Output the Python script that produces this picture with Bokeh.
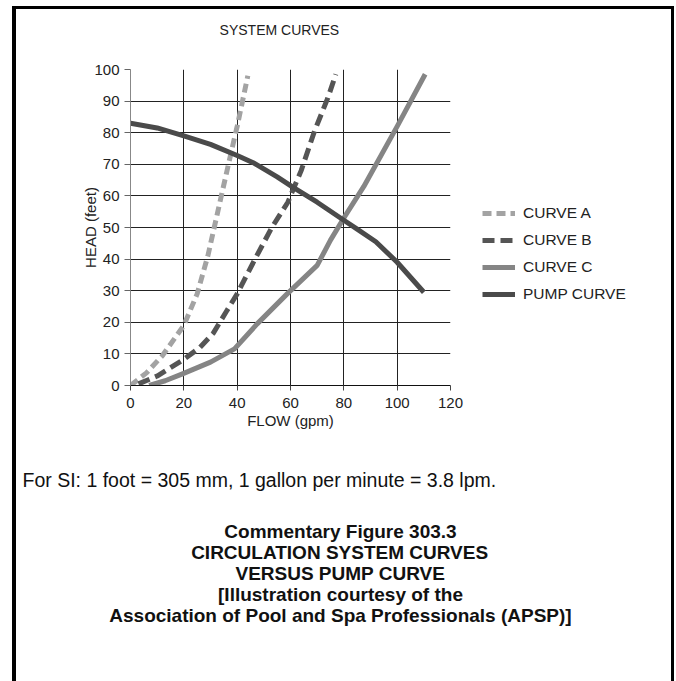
from bokeh.plotting import figure
from bokeh.models import Range1d, FixedTicker, Legend, LegendItem, Title
from bokeh.embed import file_html
from bokeh.resources import INLINE

# ---- data ----
flow_a = [0, 6, 12, 20, 25, 29, 33, 37, 40, 44]
head_a = [0, 4, 9.5, 19, 29, 41, 56, 71, 82, 98]

flow_b = [3, 10, 19.5, 26, 31, 36, 40, 47, 53, 59, 64, 69, 74, 77]
head_b = [0.5, 3, 8, 12, 16.5, 23.5, 29, 40.5, 50, 58, 68, 80.5, 91, 98.5]

flow_c = [7, 13, 19.5, 30, 39, 47.5, 58.75, 70, 75, 80, 87.5, 100, 110.5]
head_c = [0, 1.5, 3.7, 7.4, 11.6, 19.5, 29, 38, 46, 53, 63, 82, 98.5]

flow_p = [0, 10, 20, 30, 40, 46, 55, 61, 70, 80, 85, 92, 100, 110]
head_p = [83, 81.5, 79, 76.3, 72.8, 70.5, 66, 62.7, 58, 52.3, 49.5, 45.5, 39, 29.5]

series_names = ["CURVE A", "CURVE B", "CURVE C", "PUMP CURVE"]
x_ticks = [0, 20, 40, 60, 80, 100, 120]
y_ticks = [0, 10, 20, 30, 40, 50, 60, 70, 80, 90, 100]

title_text = "SYSTEM CURVES"
note_text = "For SI:  1 foot = 305 mm, 1 gallon per minute = 3.8 lpm."
caption_lines = [
    "Commentary Figure 303.3",
    "CIRCULATION SYSTEM CURVES",
    "VERSUS PUMP CURVE",
    "[Illustration courtesy of the",
    "Association of Pool and Spa Professionals (APSP)]",
]

FONT = "Liberation Sans"
W, H = 676, 681
FL, FR, FT, FB = 130, 450, 69, 385   # frame edges in pixels

# Arial/Liberation Sans advance widths (1/1000 em) used to centre text
_REG = {"S": 667, "Y": 667, "T": 611, "E": 667, "M": 833, " ": 278, "C": 722,
        "U": 722, "R": 722, "V": 667}
_BOLD = {" ": 278, "(": 333, ")": 333, "[": 333, "]": 333, ".": 278,
         "A": 722, "B": 722, "C": 722, "D": 722, "E": 667, "F": 611, "G": 778,
         "H": 722, "I": 278, "L": 611, "M": 833, "N": 722, "O": 778, "P": 667,
         "R": 722, "S": 667, "T": 611, "U": 722, "V": 667, "Y": 667,
         "a": 556, "c": 556, "d": 611, "e": 556, "f": 333, "g": 611, "h": 611,
         "i": 278, "l": 278, "m": 889, "n": 611, "o": 611, "p": 611, "r": 389,
         "s": 556, "t": 333, "u": 611, "y": 556}


def text_width(s, size, table):
    return sum(table.get(ch, 556 if ch.isdigit() else 600) for ch in s) * size / 1000.0


def spacer(px):
    return Title(text=" ", text_font_size="1px", standoff=px)


p = figure(frame_width=FR - FL, frame_height=FB - FT,
           output_backend="svg", toolbar_location=None,
           x_range=Range1d(0, 120), y_range=Range1d(0, 100),
           min_border_left=FL, min_border_right=W - FR,
           min_border_top=FT, min_border_bottom=H - FB)
p.styles = {"background": ", ".join([
    "linear-gradient(#000,#000) 12px 6px / 4px 100% no-repeat",
    "linear-gradient(#000,#000) 671px 6px / 3px 100% no-repeat",
    "linear-gradient(#000,#000) 12px 6px / 662px 3px no-repeat",
]) + ", #ffffff"}
p.outline_line_color = None
p.background_fill_color = "white"
p.border_fill_color = None

# title
TS = 14
p.title.text = title_text
p.title.align = "left"
p.title.offset = 279 - FL - text_width(title_text, TS, _REG) / 2
p.title.standoff = 0
p.title.text_font = FONT
p.title.text_font_size = f"{TS}px"
p.title.text_font_style = "normal"
p.title.text_color = "#222222"
p.add_layout(spacer(29), "above")

p.xaxis.ticker = FixedTicker(ticks=x_ticks)
p.yaxis.ticker = FixedTicker(ticks=y_ticks)
p.grid.grid_line_color = "#222222"
p.grid.grid_line_width = 1

for ax in (p.xaxis, p.yaxis):
    ax.major_label_text_font = FONT
    ax.major_label_text_font_size = "15px"
    ax.major_label_text_color = "#222222"
    ax.axis_label_text_font = FONT
    ax.axis_label_text_font_size = "15px"
    ax.axis_label_text_font_style = "normal"
    ax.axis_label_text_color = "#222222"
    ax.major_tick_in = 0
    ax.minor_tick_line_color = None

p.xaxis.axis_label = "FLOW (gpm)"
p.yaxis.axis_label = "HEAD (feet)"
p.xaxis.axis_line_color = "#111111"
p.xaxis.major_tick_line_color = "#444444"
p.yaxis.axis_line_color = "#888888"
p.yaxis.major_tick_line_color = "#666666"
p.xaxis.major_tick_out = 5
p.yaxis.major_tick_out = 6
p.xaxis.major_label_standoff = 7
p.yaxis.major_label_standoff = 5
p.xaxis.axis_label_standoff = 1
p.yaxis.axis_label_standoff = -8

ra = p.line(flow_a, head_a, line_color="#a3a3a3", line_width=5, line_dash="9 5")
rb = p.line(flow_b, head_b, line_color="#555555", line_width=5, line_dash="12 6")
rc = p.line(flow_c, head_c, line_color="#858585", line_width=5, line_join="round")
rp = p.line(flow_p, head_p, line_color="#4a4a4a", line_width=5, line_join="round")

legend = Legend(
    items=[LegendItem(label=n, renderers=[r]) for n, r in zip(series_names, [ra, rb, rc, rp])],
    location=(32, 81), glyph_width=33, glyph_height=20, label_height=20,
    spacing=7, padding=0, margin=0, label_standoff=8,
    border_line_color=None, background_fill_alpha=0,
    label_text_font=FONT, label_text_font_size="15.5px", label_text_color="#222222")
p.add_layout(legend, "right")

# notes and caption below the x axis
NS, CS = 19.5, 19
CAP_H = 1.1 * CS
p.add_layout(spacer(31.6), "below")
p.add_layout(Title(text=note_text, align="left", offset=22 - FL, standoff=0,
                   text_font=FONT, text_font_size=f"{NS}px", text_font_style="normal",
                   text_color="#111111"), "below")
p.add_layout(spacer(27), "below")
for line in caption_lines:
    w = text_width(line, CS, _BOLD)
    p.add_layout(Title(text=line, align="left", offset=340 - FL - w / 2,
                       standoff=21 - 2 - CAP_H,
                       text_font=FONT, text_font_size=f"{CS}px", text_font_style="bold",
                       text_color="#111111"), "below")

open("out.html", "w").write(file_html(p, INLINE))
